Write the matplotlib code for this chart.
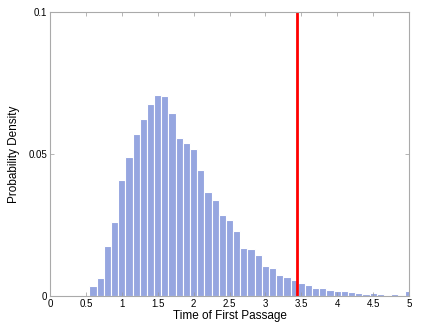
import numpy as np
import matplotlib
matplotlib.use("Agg")
import matplotlib.pyplot as plt

plt.rcParams['font.family'] = ['Liberation Sans', 'DejaVu Sans']

# bin centres (width 0.1) and heights
centers = np.round(np.arange(0.5, 5.01, 0.1), 1)
density = [0.0003, 0.0035, 0.0065, 0.0176, 0.026, 0.0408, 0.049, 0.057, 0.0622, 0.0675,
           0.0708, 0.0705, 0.0645, 0.0556, 0.0538, 0.0517, 0.0444, 0.0367, 0.0337, 0.0285,
           0.0268, 0.0229, 0.0170, 0.0165, 0.0144, 0.0106, 0.0097, 0.0073, 0.0068, 0.0057,
           0.0046, 0.0039, 0.0027, 0.0027, 0.0021, 0.0018, 0.0018, 0.0015, 0.0011, 0.0006,
           0.0012, 0.0006, 0.0004, 0.0006, 0.0004, 0.0018]
threshold = 3.44

fig = plt.figure(figsize=(4.23, 3.27), dpi=100)
ax = fig.add_axes([50/423, 31/327, 359/423, 284/327])

ax.bar(centers, density, width=0.1, color='#96a6e0', edgecolor='white', linewidth=0.8)
ax.axvline(threshold, color='#ff0000', linewidth=2)

ax.set_xlim(0, 5)
ax.set_ylim(0, 0.1)
ax.set_xticks(np.arange(0, 5.01, 0.5))
ax.set_xticklabels(['0', '0.5', '1', '1.5', '2', '2.5', '3', '3.5', '4', '4.5', '5'])
ax.set_yticks([0, 0.05, 0.1])
ax.set_yticklabels(['0', '0.05', '0.1'])
ax.tick_params(direction='in', top=True, right=True, length=3, width=0.5,
               color='#999999', labelsize=7, pad=2)
for s in ax.spines.values():
    s.set_color('#aaaaaa')
    s.set_linewidth(0.8)

ax.set_xlabel('Time of First Passage', fontsize=8.5, labelpad=1)
ax.set_ylabel('Probability Density', fontsize=8.5, labelpad=6)

fig.savefig('out.png', dpi=100)
